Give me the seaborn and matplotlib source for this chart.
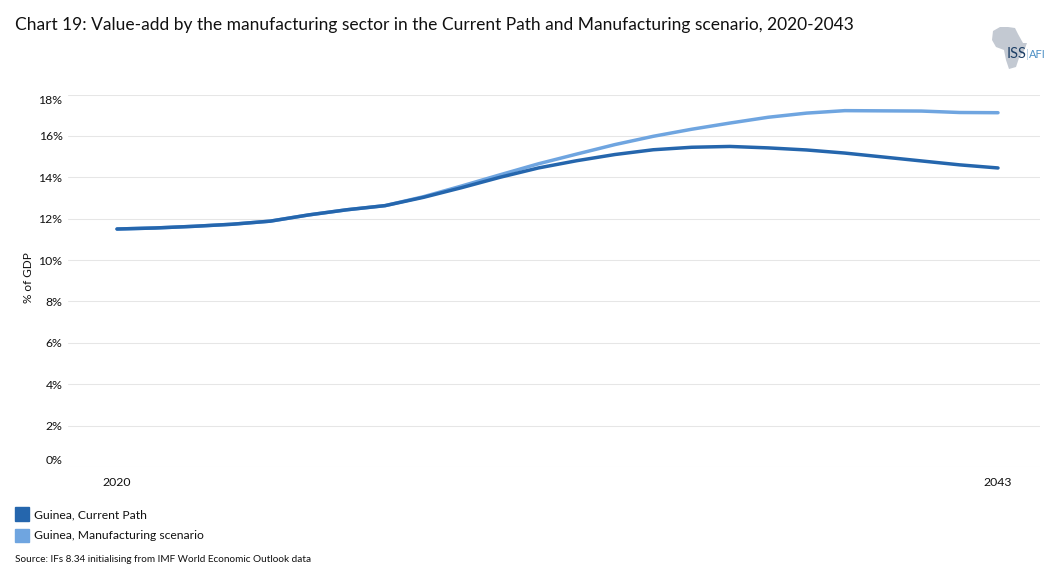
import numpy as np
import pandas as pd
import seaborn as sns
import matplotlib.pyplot as plt
from matplotlib.patches import Patch, Polygon
from matplotlib.transforms import ScaledTranslation

years = list(range(2020, 2044))
current_path = [11.50, 11.55, 11.63, 11.73, 11.88, 12.18, 12.43, 12.63, 13.03, 13.50, 14.00, 14.45,
                14.80, 15.10, 15.33, 15.45, 15.49, 15.42, 15.32, 15.17, 14.98, 14.79, 14.60, 14.45]
manufacturing = [11.50, 11.55, 11.63, 11.73, 11.88, 12.18, 12.43, 12.63, 13.06, 13.58, 14.12, 14.65,
                 15.12, 15.58, 15.98, 16.32, 16.62, 16.90, 17.10, 17.22, 17.21, 17.20, 17.13, 17.12]
series_names = ['Guinea, Current Path', 'Guinea, Manufacturing scenario']
y_ticks = [0, 2, 4, 6, 8, 10, 12, 14, 16, 18]
colors = ['#2566ad', '#6fa5e0']

W, H = 1055, 584

df = pd.DataFrame({
    'year': years * 2,
    'value': manufacturing + current_path,
    'series': [series_names[1]] * len(years) + [series_names[0]] * len(years),
})

sns.set_theme(style='white')
plt.rcParams['font.family'] = ['Lato', 'DejaVu Sans']

fig = plt.figure(figsize=(W / 100, H / 100), dpi=100)
ax = fig.add_axes([68 / W, 1 - 467 / H, (1040 - 68) / W, (467 - 94.5) / H])

# manufacturing first so the current path sits on top where they overlap
sns.lineplot(data=df, x='year', y='value', hue='series', sort=False, legend=False,
             palette={series_names[0]: colors[0], series_names[1]: colors[1]},
             hue_order=[series_names[1], series_names[0]], linewidth=2.5, ax=ax, zorder=3)

ax.set_xlim(2020 - 49 / 38.3, 2043 + 42 / 38.3)
ax.set_ylim(0, 18)
ax.set_xlabel('')
ax.set_ylabel('')
for s in ax.spines.values():
    s.set_visible(False)

ax.set_yticks(y_ticks)
ax.set_yticklabels([f'{t}%' for t in y_ticks], fontsize=8.8, color='#111111')
ax.yaxis.grid(True, color='#e6e6e6', linewidth=0.75)
ax.set_axisbelow(True)
ax.tick_params(axis='y', length=0, pad=4)

ax.set_xticks(years)
ax.set_xticklabels([str(y) if y in (2020, 2043) else '' for y in years], fontsize=8.8, color='#111111')
ax.tick_params(axis='x', length=2, width=0.6, color='#f0f0f0', pad=5.5)

# end labels are pushed inwards on the reference
labels = ax.get_yticklabels()
labels[0].set_transform(labels[0].get_transform() + ScaledTranslation(0, 8 / 100, fig.dpi_scale_trans))
labels[-1].set_transform(labels[-1].get_transform() + ScaledTranslation(0, -4.5 / 100, fig.dpi_scale_trans))

fig.text(28.5 / W, 1 - 278 / H, '% of GDP', rotation=90, fontsize=8.5, color='#111111', ha='center', va='center')
fig.text(15 / W, 1 - 25 / H, 'Chart 19: Value-add by the manufacturing sector in the Current Path and Manufacturing scenario, 2020-2043',
         fontsize=12.53, color='#111111', ha='left', va='center')
fig.text(15 / W, 1 - 560 / H, 'Source: IFs 8.34 initialising from IMF World Economic Outlook data',
         fontsize=7.2, color='#111111', ha='left', va='center')

handles = [Patch(color=colors[0], label=series_names[0]), Patch(color=colors[1], label=series_names[1])]
fig.legend(handles=handles, loc='upper left', bbox_to_anchor=(15 / W, 1 - 507.5 / H), frameon=False,
           borderpad=0, borderaxespad=0, handlelength=1.16, handleheight=1.28, handletextpad=0.41,
           labelspacing=0.68, fontsize=8.7, labelcolor='#111111')

# ISS AFI logo
africa = [(993, 31), (1000, 27), (1008, 27), (1015, 28), (1018, 34), (1023, 43), (1027, 43), (1024, 51),
          (1019, 58), (1016, 67), (1009, 69), (1006, 60), (1004, 50), (996, 47), (992, 40)]
fig.add_artist(Polygon([(x / W, 1 - y / H) for x, y in africa], closed=True, transform=fig.transFigure,
                       facecolor='#c3c9d2', edgecolor='none'))
fig.text(1007 / W, 1 - 54 / H, 'ISS', fontsize=10.5, color='#1d3f66', ha='left', va='center')
fig.text(1026 / W, 1 - 54 / H, '|', fontsize=8, color='#a9c6de', ha='left', va='center')
fig.text(1029 / W, 1 - 54 / H, 'AFI', fontsize=8, color='#4c8fc4', ha='left', va='center')

fig.savefig('out.png', dpi=100)
